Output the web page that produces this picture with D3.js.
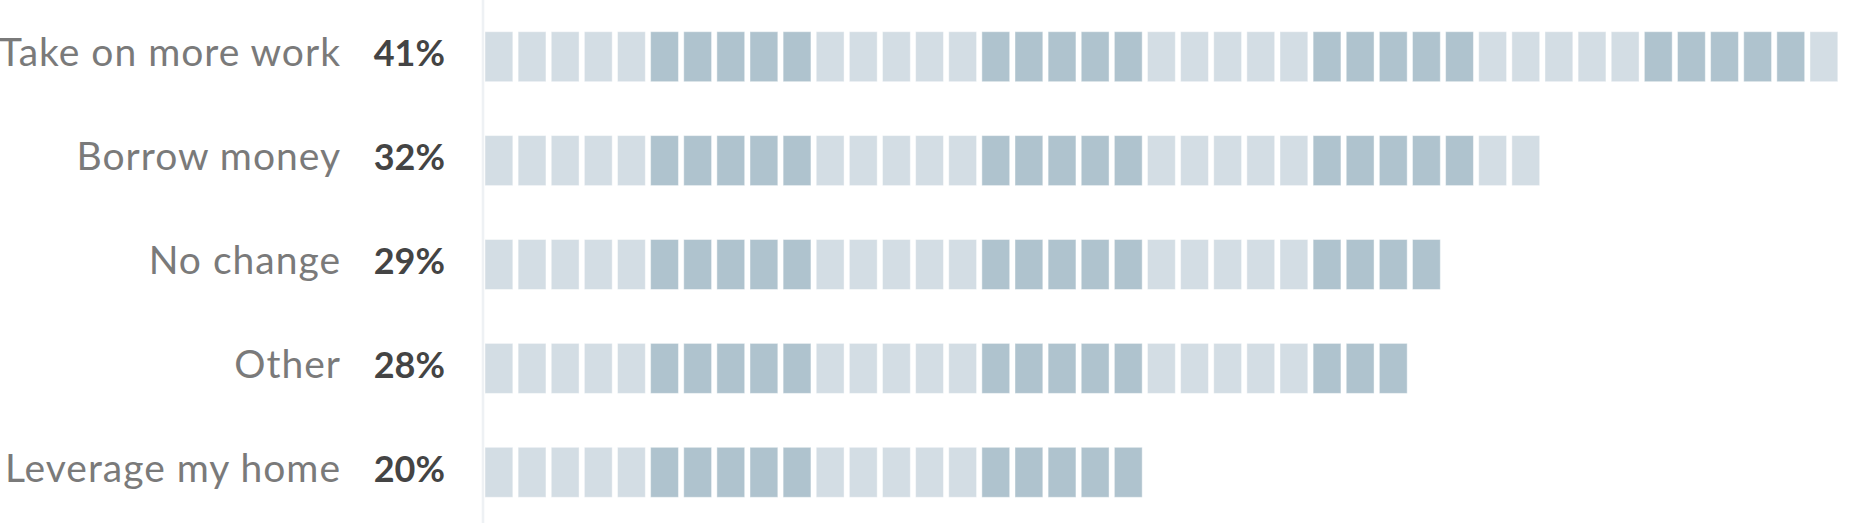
<!DOCTYPE html>
<html>
<head>
<meta charset="utf-8">
<script src="https://cdn.jsdelivr.net/npm/d3@7"></script>
<style>
  html, body { margin: 0; padding: 0; background: #ffffff; }
  svg { display: block; }
</style>
</head>
<body>
<svg id="chart" width="1871" height="523"></svg>
<script>
const categories = ["Take on more work", "Borrow money", "No change", "Other", "Leverage my home"];
const values = [41, 32, 29, 28, 20];
const valueLabels = ["41%", "32%", "29%", "28%", "20%"];
const groupSize = 5;

const W = 1871, H = 523;
const svg = d3.select("#chart");

const x = d3.scaleLinear().domain([0, d3.max(values)]).range([485, 1843.1]);
const y = d3.scalePoint().domain(categories).range([56.7, 472.3]);
const cellH = 50;
const cellGap = 5.3;
const step = x(1) - x(0);
const colors = ["#d3dde4", "#afc3ce"];

// divider
svg.append("line")
  .attr("x1", 483).attr("x2", 483)
  .attr("y1", 0).attr("y2", H)
  .attr("stroke", "#eef1f4").attr("stroke-width", 2.6);

const rows = svg.selectAll("g.row")
  .data(categories.map((c, i) => ({ cat: c, value: values[i], label: valueLabels[i] })))
  .join("g").attr("class", "row");

rows.selectAll("rect")
  .data(d => d3.range(d.value).map(i => ({ i, cat: d.cat })))
  .join("rect")
  .attr("x", d => x(d.i))
  .attr("y", d => y(d.cat) - cellH / 2)
  .attr("width", step - cellGap)
  .attr("height", cellH)
  .attr("fill", d => colors[Math.floor(d.i / groupSize) % 2])
  .attr("stroke", "rgba(255,255,255,0.45)")
  .attr("stroke-width", 1);

rows.append("text")
  .attr("x", 341)
  .attr("y", d => y(d.cat) + 9.5)
  .attr("text-anchor", "end")
  .attr("font-family", "Lato, 'Open Sans', sans-serif")
  .attr("font-size", 39)
  .attr("letter-spacing", "1px")
  .attr("fill", "#7a7a7a")
  .text(d => d.cat);

rows.append("text")
  .attr("x", 445)
  .attr("y", d => y(d.cat) + 9.5)
  .attr("text-anchor", "end")
  .attr("font-family", "Lato, 'Open Sans', sans-serif")
  .attr("font-weight", "bold")
  .attr("font-size", 36)
  .attr("fill", "#444444")
  .text(d => d.label);
</script>
</body>
</html>
